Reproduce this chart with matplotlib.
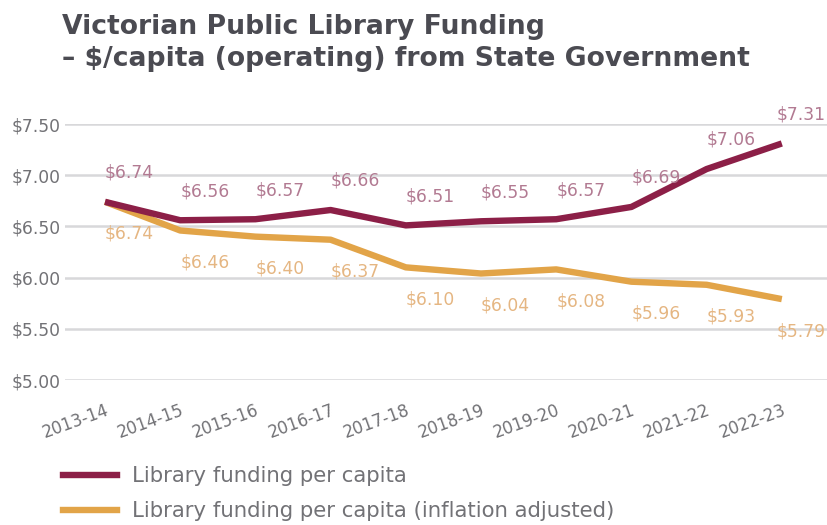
import matplotlib
matplotlib.use("Agg")
import matplotlib.pyplot as plt
from matplotlib.lines import Line2D

plt.rcParams['font.family'] = ['DejaVu Sans']

# funding data, $ per capita
years = ['2013-14', '2014-15', '2015-16', '2016-17', '2017-18',
         '2018-19', '2019-20', '2020-21', '2021-22', '2022-23']
funding = [6.74, 6.56, 6.57, 6.66, 6.51, 6.55, 6.57, 6.69, 7.06, 7.31]
funding_adj = [6.74, 6.46, 6.40, 6.37, 6.10, 6.04, 6.08, 5.96, 5.93, 5.79]
yticks = [5.00, 5.50, 6.00, 6.50, 7.00, 7.50]

MAROON = '#8c1f47'
GOLD = '#e2a448'
MAROON_TXT = '#b27a92'
GOLD_TXT = '#e5b682'
GREY = '#727276'

fig = plt.figure(figsize=(8.27, 5.25), dpi=100)
ax = fig.add_axes([65 / 827, 145 / 525, 1 - 65 / 827, 256 / 525])

x = list(range(len(years)))
ax.plot(x, funding, color=MAROON, lw=4.6, solid_capstyle='butt', zorder=3, clip_on=False)
ax.plot(x, funding_adj, color=GOLD, lw=4.6, solid_capstyle='butt', zorder=2, clip_on=False)

# value labels sit left-aligned at each point; the last pair is nudged in from the edge
n = len(x)
for xi, v in zip(x, funding):
    dx = -4 if xi == n - 1 else 0
    ax.annotate('${:.2f}'.format(v), (xi, v), xytext=(dx, 21), textcoords='offset points',
                ha='left', va='center', fontsize=12.3, color=MAROON_TXT, clip_on=False)
for xi, v in zip(x, funding_adj):
    dx = -4 if xi == n - 1 else 0
    ax.annotate('${:.2f}'.format(v), (xi, v), xytext=(dx, -23), textcoords='offset points',
                ha='left', va='center', fontsize=12.3, color=GOLD_TXT, clip_on=False)

ax.set_xlim(-0.532, 9.601)
ax.set_ylim(5.0, 7.5)
ax.set_yticks(yticks)
ax.set_yticklabels(['${:.2f}'.format(t) for t in yticks])
ax.set_xticks(x)
ax.set_xticklabels(years, rotation=20, ha='right', rotation_mode='anchor')
ax.tick_params(axis='y', length=0, pad=3, labelsize=12.3, labelcolor=GREY)
ax.tick_params(axis='x', length=0, pad=15, labelsize=12, labelcolor=GREY)
for lbl in ax.get_xticklabels():
    lbl.set_va('top')

ax.grid(axis='y', color='#d8d8da', lw=1.8)
ax.set_axisbelow(True)
for s in ax.spines.values():
    s.set_visible(False)

fig.text(62 / 827, 1 - 14 / 525, 'Victorian Public Library Funding\n– $/capita (operating) from State Government',
         ha='left', va='top', fontsize=19.2, fontweight='bold', color='#4b4b52', linespacing=1.3)

handles = [Line2D([], [], color=MAROON, lw=4.6), Line2D([], [], color=GOLD, lw=4.6)]
fig.legend(handles, ['Library funding per capita', 'Library funding per capita (inflation adjusted)'],
           loc='upper left', bbox_to_anchor=(63 / 827, 1 - 466 / 525), frameon=False,
           fontsize=15.3, labelcolor=GREY, handlelength=2.55, handletextpad=0.7,
           labelspacing=0.72, borderpad=0, borderaxespad=0)

fig.savefig('out.png', dpi=100)
